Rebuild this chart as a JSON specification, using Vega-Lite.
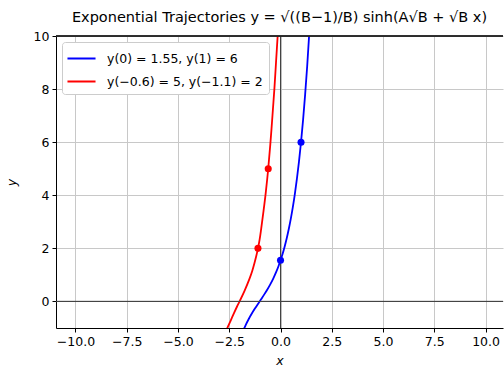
{
  "$schema": "https://vega.github.io/schema/vega-lite/v6.json",
  "width": 447,
  "height": 292,
  "autosize": {"type": "none"},
  "padding": {"left": 56, "top": 36, "right": 1, "bottom": 48},
  "title": {"text": "Exponential Trajectories y = √((B−1)/B) sinh(A√B + √B x)", "fontSize": 14.5, "font": "DejaVu Sans", "fontWeight": "normal", "color": "black", "anchor": "middle", "offset": 5},
  "config": {
    "view": {"stroke": null},
    "axis": {"grid": true, "domainColor": "black", "domainWidth": 1, "tickColor": "black", "tickSize": 4, "tickWidth": 1, "labelColor": "black", "labelFont": "DejaVu Sans", "labelFontSize": 12.5, "labelPadding": 3, "gridColor": "#c8c8c8", "gridWidth": 1, "titleFont": "DejaVu Sans", "titleFontSize": 12.5, "titleFontWeight": "normal", "titleFontStyle": "italic", "titleColor": "black", "labelFlush": false, "labelOverlap": false}
  },
  "datasets": {
    "curves": [
      {"series": "y(0) = 1.55, y(1) = 6", "x": -1.85, "y": -1.151},
      {"series": "y(0) = 1.55, y(1) = 6", "x": -1.7, "y": -0.889},
      {"series": "y(0) = 1.55, y(1) = 6", "x": -1.55, "y": -0.66},
      {"series": "y(0) = 1.55, y(1) = 6", "x": -1.4, "y": -0.456},
      {"series": "y(0) = 1.55, y(1) = 6", "x": -1.25, "y": -0.269},
      {"series": "y(0) = 1.55, y(1) = 6", "x": -1.1, "y": -0.093},
      {"series": "y(0) = 1.55, y(1) = 6", "x": -0.95, "y": 0.081},
      {"series": "y(0) = 1.55, y(1) = 6", "x": -0.8, "y": 0.257},
      {"series": "y(0) = 1.55, y(1) = 6", "x": -0.65, "y": 0.443},
      {"series": "y(0) = 1.55, y(1) = 6", "x": -0.5, "y": 0.646},
      {"series": "y(0) = 1.55, y(1) = 6", "x": -0.35, "y": 0.873},
      {"series": "y(0) = 1.55, y(1) = 6", "x": -0.2, "y": 1.132},
      {"series": "y(0) = 1.55, y(1) = 6", "x": -0.1, "y": 1.328},
      {"series": "y(0) = 1.55, y(1) = 6", "x": 0, "y": 1.55},
      {"series": "y(0) = 1.55, y(1) = 6", "x": 0.1, "y": 1.789},
      {"series": "y(0) = 1.55, y(1) = 6", "x": 0.2, "y": 2.063},
      {"series": "y(0) = 1.55, y(1) = 6", "x": 0.3, "y": 2.37},
      {"series": "y(0) = 1.55, y(1) = 6", "x": 0.4, "y": 2.718},
      {"series": "y(0) = 1.55, y(1) = 6", "x": 0.5, "y": 3.108},
      {"series": "y(0) = 1.55, y(1) = 6", "x": 0.6, "y": 3.552},
      {"series": "y(0) = 1.55, y(1) = 6", "x": 0.7, "y": 4.056},
      {"series": "y(0) = 1.55, y(1) = 6", "x": 0.8, "y": 4.626},
      {"series": "y(0) = 1.55, y(1) = 6", "x": 0.9, "y": 5.268},
      {"series": "y(0) = 1.55, y(1) = 6", "x": 1.0, "y": 6.0},
      {"series": "y(0) = 1.55, y(1) = 6", "x": 1.1, "y": 6.841},
      {"series": "y(0) = 1.55, y(1) = 6", "x": 1.2, "y": 7.791},
      {"series": "y(0) = 1.55, y(1) = 6", "x": 1.3, "y": 8.862},
      {"series": "y(0) = 1.55, y(1) = 6", "x": 1.4, "y": 10.09},
      {"series": "y(0) = 1.55, y(1) = 6", "x": 1.45, "y": 10.76},
      {"series": "y(−0.6) = 5, y(−1.1) = 2", "x": -2.65, "y": -1.1},
      {"series": "y(−0.6) = 5, y(−1.1) = 2", "x": -2.56, "y": -0.94},
      {"series": "y(−0.6) = 5, y(−1.1) = 2", "x": -2.42, "y": -0.7},
      {"series": "y(−0.6) = 5, y(−1.1) = 2", "x": -2.27, "y": -0.44},
      {"series": "y(−0.6) = 5, y(−1.1) = 2", "x": -2.12, "y": -0.19},
      {"series": "y(−0.6) = 5, y(−1.1) = 2", "x": -1.98, "y": 0.03},
      {"series": "y(−0.6) = 5, y(−1.1) = 2", "x": -1.75, "y": 0.41},
      {"series": "y(−0.6) = 5, y(−1.1) = 2", "x": -1.53, "y": 0.82},
      {"series": "y(−0.6) = 5, y(−1.1) = 2", "x": -1.38, "y": 1.15},
      {"series": "y(−0.6) = 5, y(−1.1) = 2", "x": -1.27, "y": 1.45},
      {"series": "y(−0.6) = 5, y(−1.1) = 2", "x": -1.18, "y": 1.72},
      {"series": "y(−0.6) = 5, y(−1.1) = 2", "x": -1.1, "y": 2.0},
      {"series": "y(−0.6) = 5, y(−1.1) = 2", "x": -1.02, "y": 2.33},
      {"series": "y(−0.6) = 5, y(−1.1) = 2", "x": -0.95, "y": 2.7},
      {"series": "y(−0.6) = 5, y(−1.1) = 2", "x": -0.83, "y": 3.4},
      {"series": "y(−0.6) = 5, y(−1.1) = 2", "x": -0.72, "y": 4.1},
      {"series": "y(−0.6) = 5, y(−1.1) = 2", "x": -0.6, "y": 5.0},
      {"series": "y(−0.6) = 5, y(−1.1) = 2", "x": -0.5, "y": 5.9},
      {"series": "y(−0.6) = 5, y(−1.1) = 2", "x": -0.44, "y": 6.5},
      {"series": "y(−0.6) = 5, y(−1.1) = 2", "x": -0.37, "y": 7.25},
      {"series": "y(−0.6) = 5, y(−1.1) = 2", "x": -0.3, "y": 8.0},
      {"series": "y(−0.6) = 5, y(−1.1) = 2", "x": -0.22, "y": 9.0},
      {"series": "y(−0.6) = 5, y(−1.1) = 2", "x": -0.14, "y": 10.0},
      {"series": "y(−0.6) = 5, y(−1.1) = 2", "x": -0.1, "y": 10.5}
    ],
    "points": [
      {"series": "y(0) = 1.55, y(1) = 6", "x": 0, "y": 1.55},
      {"series": "y(0) = 1.55, y(1) = 6", "x": 1, "y": 6},
      {"series": "y(−0.6) = 5, y(−1.1) = 2", "x": -0.6, "y": 5},
      {"series": "y(−0.6) = 5, y(−1.1) = 2", "x": -1.1, "y": 2}
    ]
  },
  "layer": [
    {
      "data": {"name": "curves"},
      "mark": {"type": "line", "strokeWidth": 1.8, "clip": true, "interpolate": "monotone", "zindex": 2},
      "encoding": {
        "x": {"field": "x", "type": "quantitative", "scale": {"domain": [-10.95, 10.85], "nice": false, "zero": false}, "axis": {"title": "x", "grid": true, "values": [-10, -7.5, -5, -2.5, 0, 2.5, 5, 7.5, 10], "format": ".1f", "titlePadding": 7}},
        "y": {"field": "y", "type": "quantitative", "scale": {"domain": [-1, 10], "nice": false, "zero": false}, "axis": {"title": "y", "grid": true, "values": [0, 2, 4, 6, 8, 10], "format": "d", "titlePadding": 15}},
        "color": {"field": "series", "type": "nominal", "sort": null,
          "scale": {"domain": ["y(0) = 1.55, y(1) = 6", "y(−0.6) = 5, y(−1.1) = 2"], "range": ["#0000ff", "#ff0000"]},
          "legend": {"title": null, "orient": "top-left", "offset": 6, "symbolType": "M-1.5,0H1.5", "symbolSize": 350, "symbolStrokeWidth": 2, "symbolOffset": 3, "labelFontSize": 12.5, "labelFont": "DejaVu Sans", "labelColor": "black", "fillColor": "white", "strokeColor": "#cccccc", "cornerRadius": 3, "padding": 6, "rowPadding": 6, "labelOffset": 15, "zindex": 5}}
      }
    },
    {
      "data": {"name": "points"},
      "mark": {"type": "rule", "color": "#444444", "strokeWidth": 1, "zindex": 1},
      "encoding": {"y": {"datum": 0, "type": "quantitative"}}
    },
    {
      "data": {"name": "points"},
      "mark": {"type": "rule", "color": "#444444", "strokeWidth": 1, "zindex": 1},
      "encoding": {"x": {"datum": 0, "type": "quantitative"}}
    },
    {
      "data": {"name": "points"},
      "mark": {"type": "rule", "color": "#222222", "strokeWidth": 1, "zindex": 1},
      "encoding": {"y": {"datum": 10, "type": "quantitative"}}
    },
    {
      "data": {"name": "points"},
      "mark": {"type": "point", "filled": true, "size": 50, "opacity": 1, "shape": "circle", "zindex": 3},
      "encoding": {
        "x": {"field": "x", "type": "quantitative"},
        "y": {"field": "y", "type": "quantitative"},
        "fill": {"field": "series", "type": "nominal", "scale": {"domain": ["y(0) = 1.55, y(1) = 6", "y(−0.6) = 5, y(−1.1) = 2"], "range": ["#0000ff", "#ff0000"]}, "legend": null}
      }
    }
  ]
}
